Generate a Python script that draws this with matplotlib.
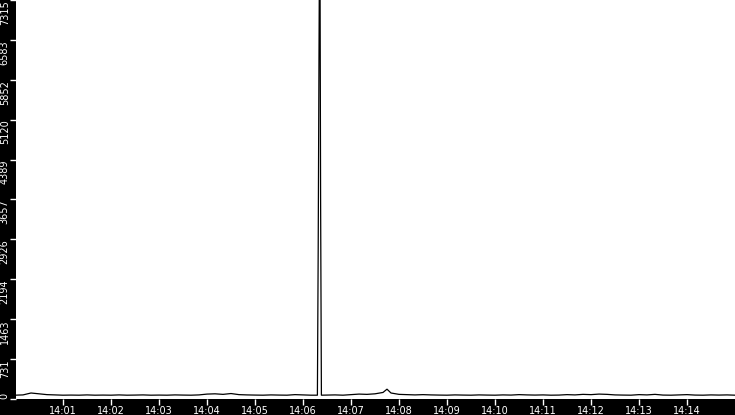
import matplotlib
matplotlib.use("Agg")
import matplotlib.pyplot as plt
from matplotlib.ticker import FuncFormatter

# seconds after 14:00:00 and the measured value
secs = [0, 10, 20, 30, 40, 50, 60, 70, 80, 90, 100, 110, 120, 130, 140, 150,
        160, 170, 180, 190, 200, 210, 220, 230, 240, 250, 260, 270, 280, 290,
        300, 310, 320, 330, 340, 350, 360, 370, 378, 379, 380, 381, 382, 383,
        390, 400, 410, 420, 430, 440, 450, 460, 465, 470, 480, 490, 500, 510,
        520, 530, 540, 550, 560, 570, 580, 590, 600, 610, 620, 630, 640, 650,
        660, 670, 680, 690, 700, 710, 720, 730, 740, 750, 760, 770, 780, 790,
        800, 810, 820, 830, 840, 850, 860, 870, 880, 890, 900]
vals = [70, 75, 110, 95, 80, 75, 70, 72, 70, 75, 70, 72, 70, 75, 70, 72,
        75, 70, 72, 70, 75, 72, 70, 75, 90, 95, 85, 100, 80, 75,
        72, 70, 75, 72, 70, 80, 75, 70, 70, 2760, 6340, 9500, 3670, 70,
        72, 75, 70, 80, 90, 85, 95, 120, 180, 110, 85, 80, 75, 80,
        75, 72, 70, 75, 72, 70, 75, 72, 70, 75, 72, 80, 75, 72,
        75, 70, 72, 80, 75, 85, 80, 90, 85, 75, 72, 70, 80, 75,
        85, 72, 70, 75, 80, 72, 70, 75, 72, 75, 70]

ymax = 7315
yticks = [ymax * k / 10 for k in range(11)]
xticks = list(range(60, 900, 60))

fig = plt.figure(figsize=(7.35, 4.15), dpi=100, facecolor="black")
ax = fig.add_axes([16 / 735, 16 / 415, 719 / 735, 399 / 415])
ax.set_facecolor("white")
ax.plot(secs, vals, color="black", lw=0.9)

ax.set_xlim(1.25, 900)
ax.set_ylim(0, ymax * 399 / 400)
ax.set_xticks(xticks)
ax.set_yticks(yticks)
ax.xaxis.set_major_formatter(FuncFormatter(lambda s, p: "14:%02d" % int(round(s / 60))))
ax.set_yticklabels([str(int(v)) for v in yticks], rotation=90)

ax.tick_params(colors="white", labelcolor="white", labelsize=7, length=4,
               width=1, pad=1, direction="out")
ax.tick_params(axis="y", pad=0.5)

# y labels hang below their tick, the bottom one sits above it
ylabs = ax.get_yticklabels()
for lab in ylabs[1:]:
    lab.set_va("top")
ylabs[0].set_va("bottom")

for sp in ax.spines.values():
    sp.set_visible(False)

fig.savefig("out.png", dpi=100, facecolor="black")
